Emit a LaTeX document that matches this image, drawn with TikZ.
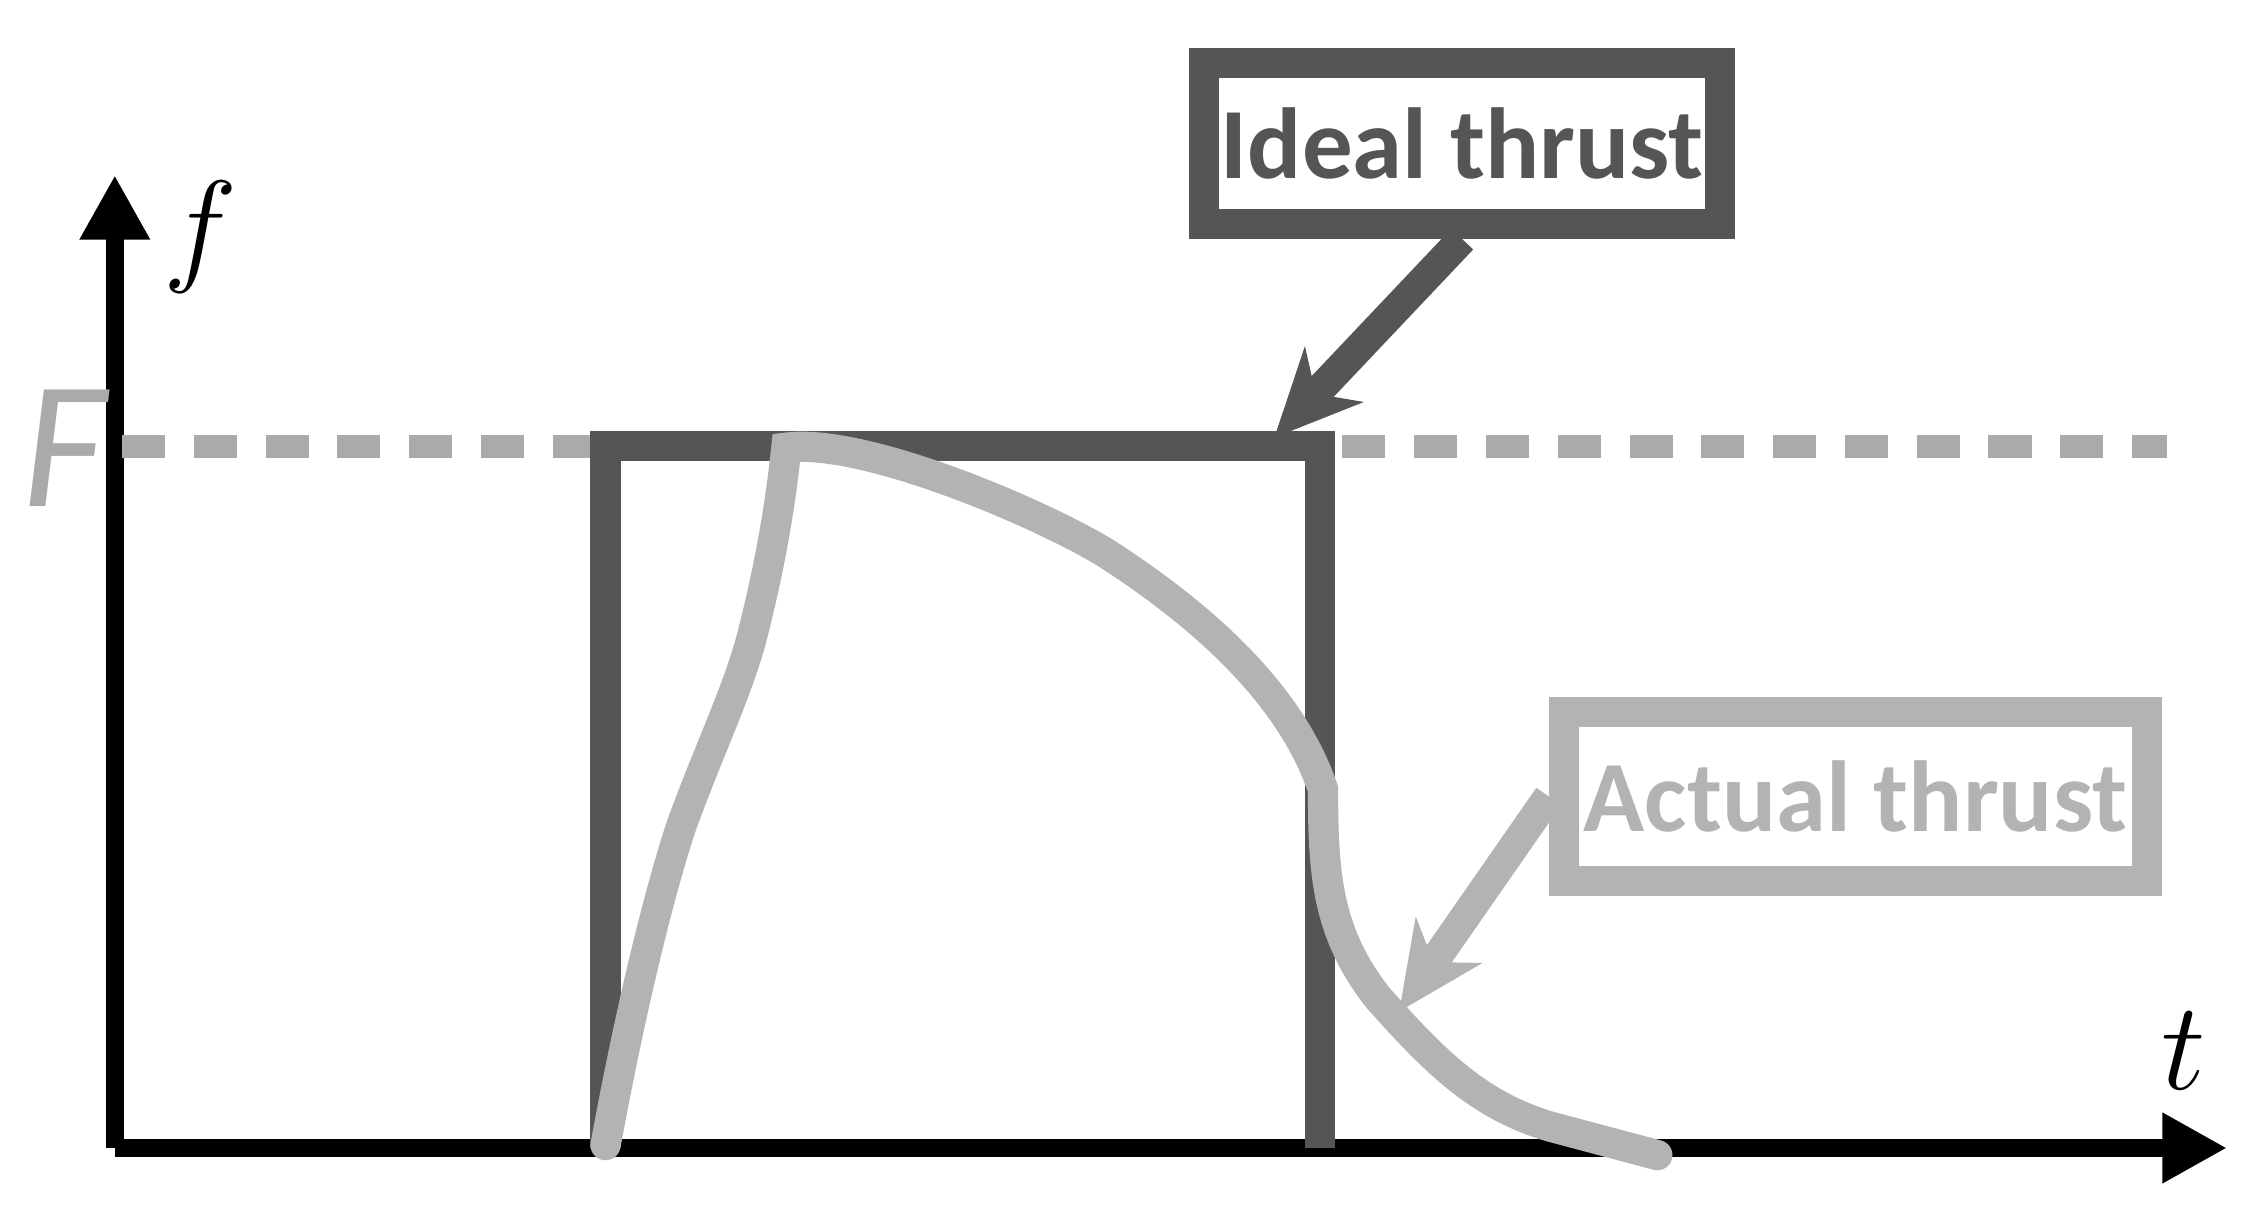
\documentclass[tikz,border=0pt]{standalone}
\usepackage{fontspec}
\setmainfont{Carlito}
\usetikzlibrary{arrows.meta}
\definecolor{dk}{HTML}{555555}
\definecolor{lt}{HTML}{B3B3B3}
\definecolor{dashgray}{HTML}{AAAAAA}
\begin{document}
\begin{tikzpicture}[x=0.01cm,y=-0.01cm,
 axis/.style={line width=3.5pt,-{Triangle[length=0.45cm,width=0.46cm]}},
 box/.style={draw,line width=6pt,minimum width=3.56cm,minimum height=1.12cm,font=\fontsize{20}{24}\selectfont\bfseries},
 call/.style={line width=6pt,-{Stealth[length=0.6cm,width=0.55cm,inset=0.18cm]}}]
\useasboundingbox (0,0) rectangle (1568,844);
\coordinate (O) at (80,800);
\coordinate (X) at (1552,800);
\coordinate (Y) at (80,122);
\draw[axis] (O) -- (X);
\draw[axis] (O) -- (Y);
\node (f) at (140,165) {\fontsize{40}{44}\selectfont$f$};
\node (t) at (1522,732) {\fontsize{40}{44}\selectfont$t$};
\node[text=dashgray] (F) at (45,312) {\fontsize{36}{40}\selectfont\itshape F};
\draw[dashgray,line width=4.5pt,dash pattern=on 0.3cm off 0.2cm] (85,311) -- (1510,311);
\draw[dk,line width=6pt] (422,800) -- (422,311) -- (920,311) -- (920,800);
\draw[lt,line width=6pt,line cap=round] (422,798) .. controls (440,700) and (460,620) .. (475,575)
 .. controls (495,520) and (515,480) .. (525,440) .. controls (540,380) and (545,340) .. (548,312)
 .. controls (600,305) and (720,355) .. (770,385) .. controls (840,430) and (900,485) .. (922,550)
 .. controls (922,610) and (925,650) .. (960,695) .. controls (1000,740) and (1030,770) .. (1080,785)
 -- (1155,805);
\node[box,draw=dk,text=dk] (ideal) at (1019,100) {Ideal thrust};
\node[box,draw=lt,text=lt,minimum width=4.06cm,minimum height=1.18cm] (actual) at (1293,555) {Actual thrust};
\coordinate (ia) at (888,305);
\coordinate (aa) at (975,705);
\draw[call,dk] (ideal.south) -- (ia);
\draw[call,lt] (actual.west) -- (aa);
\end{tikzpicture}
\end{document}
